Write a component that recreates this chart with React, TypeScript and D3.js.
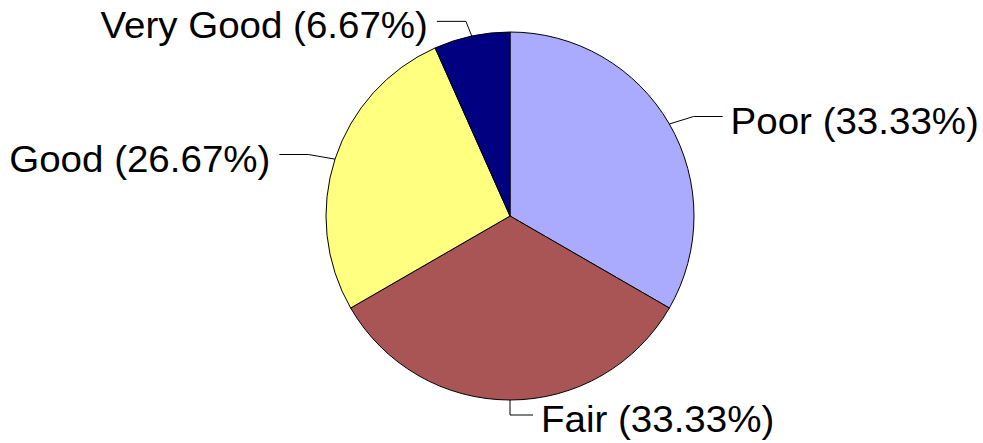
import { useEffect, useRef } from "react";
import * as d3 from "d3";

const categories = ["Poor", "Fair", "Good", "Very Good"];
const values = [5, 5, 4, 1];
const colors = ["#AAAAFF", "#AA5555", "#FFFF80", "#000080"];

const App = () => {
  const ref = useRef<SVGSVGElement>(null);

  useEffect(() => {
    if (!ref.current) return;
    const width = 983;
    const height = 443;
    const cx = 510;
    const cy = 216;
    const r = 184;

    const svg = d3.select(ref.current);
    svg.selectAll("*").remove();

    const total = d3.sum(values);
    const data = categories.map((c, i) => ({ name: c, value: values[i], color: colors[i] }));
    const pie = d3.pie().value((d) => d.value).sort(null);
    const arcs = pie(data);
    const arc = d3.arc().innerRadius(0).outerRadius(r);

    const g = svg.append("g").attr("transform", `translate(${cx},${cy})`);

    g.selectAll("path.slice")
      .data(arcs)
      .join("path")
      .attr("class", "slice")
      .attr("d", arc)
      .attr("fill", (d) => d.data.color)
      .attr("stroke", "#000")
      .attr("stroke-width", 1);

    const fmt = d3.format(".2f");

    arcs.forEach((d) => {
      const a = (d.startAngle + d.endAngle) / 2;
      const sx = Math.sin(a);
      const sy = -Math.cos(a);
      const p0 = [r * sx, r * sy];
      // leader bends out a bit more sideways than up/down
      const p1 = [p0[0] + 28 * sx, p0[1] + 15 * sy];
      const right = sx > -0.001;
      const run = Math.abs(sx) <= 0.001 ? 23 : 29;
      const p2 = [p1[0] + (right ? run : -run), p1[1]];

      g.append("polyline")
        .attr("points", [p0, p1, p2].map((p) => p.join(",")).join(" "))
        .attr("fill", "none")
        .attr("stroke", "#000")
        .attr("stroke-width", 1);

      const tx = p2[0] + (right ? 8 : -9);
      const ty = p2[1] + 17;
      g.append("text")
        .attr("transform", `translate(${tx},${ty}) scale(1.07,1)`)
        .attr("text-anchor", right ? "start" : "end")
        .attr("font-family", "'Liberation Sans', Arial, sans-serif")
        .attr("font-size", 36)
        .attr("fill", "#000")
        .text(`${d.data.name} (${fmt((d.data.value / total) * 100)}%)`);
    });

    svg.attr("viewBox", `0 0 ${width} ${height}`);
  }, []);

  return (
    <svg
      ref={ref}
      width={983}
      height={443}
      style={{ position: "absolute", left: 0, top: 0, background: "#fff" }}
    />
  );
};

export default App;
